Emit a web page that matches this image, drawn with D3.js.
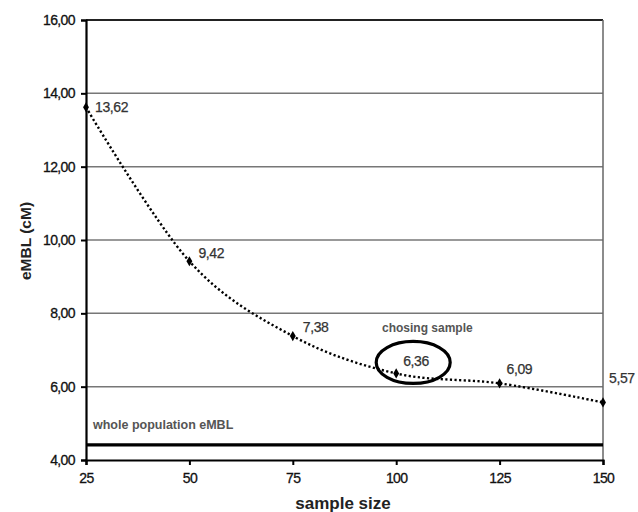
<!DOCTYPE html>
<html><head><meta charset="utf-8">
<script src="https://cdn.jsdelivr.net/npm/d3@7"></script>
<style>body{margin:0;background:#fff}svg{display:block}text{font-family:"Liberation Sans",Arial,sans-serif}</style>
</head><body><svg id="c" width="638" height="512"></svg>
<script>
const sampleSizes = [25, 50, 75, 100, 125, 150];
const embl = [13.62, 9.42, 7.38, 6.36, 6.09, 5.57];
const valueLabels = ["13,62", "9,42", "7,38", "6,36", "6,09", "5,57"];
const yTicks = [4, 6, 8, 10, 12, 14, 16];
const xTicks = [25, 50, 75, 100, 125, 150];
const wholePopulation = 4.41;
const chosenIndex = 3;

const svg = d3.select("#c");
const x = d3.scaleLinear().domain([25, 150]).range([86, 603]);
const y = d3.scaleLinear().domain([4, 16]).range([460, 20]);
const fmt = v => d3.format(".2f")(v).replace(".", ",");

// gridlines
svg.append("g").selectAll("line").data(yTicks.filter(t => t > 4)).join("line")
  .attr("x1", x(25)).attr("x2", x(150)).attr("y1", d => y(d)).attr("y2", d => y(d))
  .attr("stroke", d => d === 16 ? "#222" : "#777").attr("stroke-width", d => d === 16 ? 2 : 1.5);
// right border
svg.append("line").attr("x1", x(150)).attr("x2", x(150)).attr("y1", y(16)).attr("y2", y(4))
  .attr("stroke", "#666").attr("stroke-width", 1.5);

// axes
const yAxis = d3.axisLeft(y).tickValues(yTicks).tickFormat(fmt).tickSize(5).tickPadding(6);
const gy = svg.append("g").attr("transform", `translate(${x(25)},0)`).call(yAxis);
const xAxis = d3.axisBottom(x).tickValues(xTicks).tickSize(5).tickPadding(8);
const gx = svg.append("g").attr("transform", `translate(0,${y(4)})`).call(xAxis);
[gy, gx].forEach(g => {
  g.select(".domain").attr("stroke", "#000").attr("stroke-width", 2.2);
  g.selectAll(".tick line").attr("stroke", "#000").attr("stroke-width", 2);
  g.selectAll(".tick text").attr("font-size", 14).attr("fill", "#111")
    .attr("letter-spacing", "-0.6px").attr("stroke", "#111").attr("stroke-width", 0.3)
    .attr("font-family", '"Liberation Sans",Arial,sans-serif');
});

// whole population line
svg.append("line").attr("x1", x(25)).attr("x2", x(150))
  .attr("y1", y(wholePopulation)).attr("y2", y(wholePopulation))
  .attr("stroke", "#000").attr("stroke-width", 3.2);
svg.append("text").attr("x", 93).attr("y", y(wholePopulation) - 16)
  .attr("font-size", 12.5).attr("font-weight", "bold").attr("fill", "#555").text("whole population eMBL");

// curve
const pts = sampleSizes.map((s, i) => [x(s), y(embl[i])]);
svg.append("path").attr("d", d3.line().curve(d3.curveCardinal.tension(0))(pts))
  .attr("fill", "none").attr("stroke", "#000").attr("stroke-width", 2.4).attr("stroke-dasharray", "2.2,2.4");

// markers
svg.append("g").selectAll("path").data(pts).join("path")
  .attr("transform", d => `translate(${d[0]},${d[1]})`)
  .attr("d", d3.symbol(d3.symbolDiamond, 30)).attr("fill", "#000");

// value labels
const offs = [[9, 5], [9, -3], [10, -4], [7, -7], [7, -9], [6, -19]];
svg.append("g").selectAll("text").data(pts).join("text")
  .attr("x", (d, i) => d[0] + offs[i][0]).attr("y", (d, i) => d[1] + offs[i][1])
  .attr("font-size", 14).attr("fill", "#333").attr("letter-spacing", "-0.4px")
  .attr("stroke", "#333").attr("stroke-width", 0.25)
  .text((d, i) => valueLabels[i]);

// chosen ellipse
svg.append("ellipse").attr("cx", pts[chosenIndex][0] + 17).attr("cy", pts[chosenIndex][1] - 11)
  .attr("rx", 37).attr("ry", 21).attr("fill", "none").attr("stroke", "#000").attr("stroke-width", 3.2);
svg.append("text").attr("x", 382).attr("y", 332)
  .attr("font-size", 12).attr("font-weight", "bold").attr("fill", "#555").text("chosing sample");

// axis titles
svg.append("text").attr("x", 343).attr("y", 509).attr("text-anchor", "middle")
  .attr("font-size", 17).attr("font-weight", "bold").attr("fill", "#222").text("sample size");
svg.append("text").attr("transform", "translate(31,241) rotate(-90)").attr("text-anchor", "middle")
  .attr("font-size", 15.5).attr("font-weight", "bold").attr("fill", "#222").text("eMBL (cM)");
</script></body></html>
